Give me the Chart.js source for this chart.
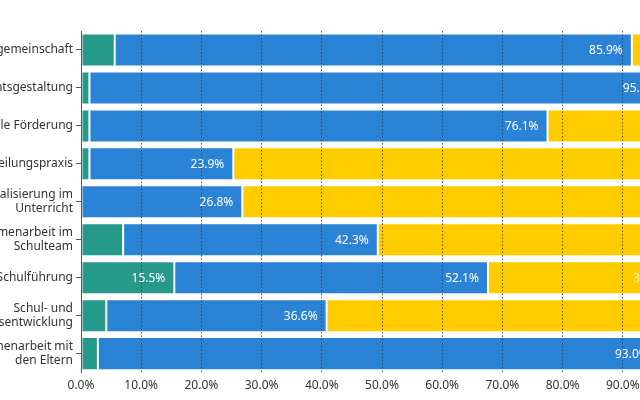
<!DOCTYPE html>
<html>
<head>
<meta charset="utf-8">
<script src="https://cdn.jsdelivr.net/npm/chart.js@4"></script>
<style>
  html, body { margin: 0; padding: 0; width: 640px; height: 400px; overflow: hidden; background: #fff; }
  #wrap { position: absolute; left: -89px; top: 0; width: 800px; height: 400px; }
</style>
</head>
<body>
<div id="wrap"><canvas id="c"></canvas></div>
<script>
// categories (multi-line where the chart wraps them)
var categories = [
  'Klassengemeinschaft',
  'Unterrichtsgestaltung',
  'Individuelle Förderung',
  'Beurteilungspraxis',
  ['Digitalisierung im', 'Unterricht'],
  ['Zusammenarbeit im', 'Schulteam'],
  'Schulführung',
  ['Schul- und', 'Unterrichtsentwicklung'],
  ['Zusammenarbeit mit', 'den Eltern']
];

// percentages per series
var greenValues  = [5.6, 1.4, 1.4, 1.4, 0, 7.0, 15.5, 4.2, 2.8];
var blueValues   = [85.9, 95.7, 76.1, 23.9, 26.8, 42.3, 52.1, 36.6, 93.0];
var yellowValues = [8.5, 2.9, 22.5, 74.7, 73.2, 50.7, 31.2, 59.2, 4.2];

var tickValues = [0, 10, 20, 30, 40, 50, 60, 70, 80, 90, 100];

var FONT = '"Noto Sans", "Open Sans", sans-serif';

// draws the value at the end of each segment, if the segment is big enough
var valueLabels = {
  id: 'valueLabels',
  afterDraw: function(chart) {
    var ctx = chart.ctx;
    ctx.save();
    ctx.font = '12px ' + FONT;
    ctx.textAlign = 'right';
    ctx.textBaseline = 'middle';
    chart.data.datasets.forEach(function(ds, i) {
      var meta = chart.getDatasetMeta(i);
      meta.data.forEach(function(bar, j) {
        var v = ds.data[j];
        if (v < 10) return;
        ctx.fillStyle = ds.labelColor;
        ctx.fillText(v.toFixed(1) + '%', bar.x - 9, bar.y + 1);
      });
    });
    ctx.restore();
  }
};

new Chart(document.getElementById('c'), {
  type: 'bar',
  data: {
    labels: categories,
    datasets: [
      { label: 'Gruen', data: greenValues, backgroundColor: '#26998a', labelColor: '#ffffff' },
      { label: 'Blau', data: blueValues, backgroundColor: '#2a83d4', labelColor: '#ffffff' },
      { label: 'Gelb', data: yellowValues, backgroundColor: '#ffcc00', labelColor: '#fff6cc' }
    ]
  },
  options: {
    indexAxis: 'y',
    responsive: true,
    maintainAspectRatio: false,
    animation: false,
    datasets: {
      bar: {
        borderColor: '#ffffff',
        borderWidth: 1,
        borderSkipped: false,
        categoryPercentage: 1,
        barPercentage: 0.87
      }
    },
    layout: { padding: { top: 31, bottom: 2, right: 28, left: 0 } },
    plugins: {
      legend: { display: false },
      tooltip: { enabled: false }
    },
    scales: {
      x: {
        stacked: true,
        min: 0,
        max: 100,
        z: 1,
        afterBuildTicks: function(scale) {
          scale.ticks = tickValues.map(function(v) { return { value: v }; });
        },
        ticks: {
          padding: 5.5,
          color: '#333333',
          font: { family: FONT, size: 12 },
          callback: function(v) { return v.toFixed(1) + '%'; }
        },
        grid: { drawTicks: false, color: 'rgba(60,60,70,0.85)', lineWidth: 1, z: 1 },
        border: { display: false, dash: [1.5, 2] }
      },
      y: {
        stacked: true,
        z: 1,
        afterFit: function(scale) { scale.width = 170; },
        ticks: {
          padding: 3,
          color: '#333333',
          font: { family: FONT, size: 12 }
        },
        grid: {
          drawOnChartArea: false,
          offset: false,
          tickLength: 5,
          tickColor: '#555555',
          z: 1
        },
        border: { display: true, color: '#555555', width: 1, z: 1 }
      }
    }
  },
  plugins: [valueLabels]
});
</script>
</body>
</html>
